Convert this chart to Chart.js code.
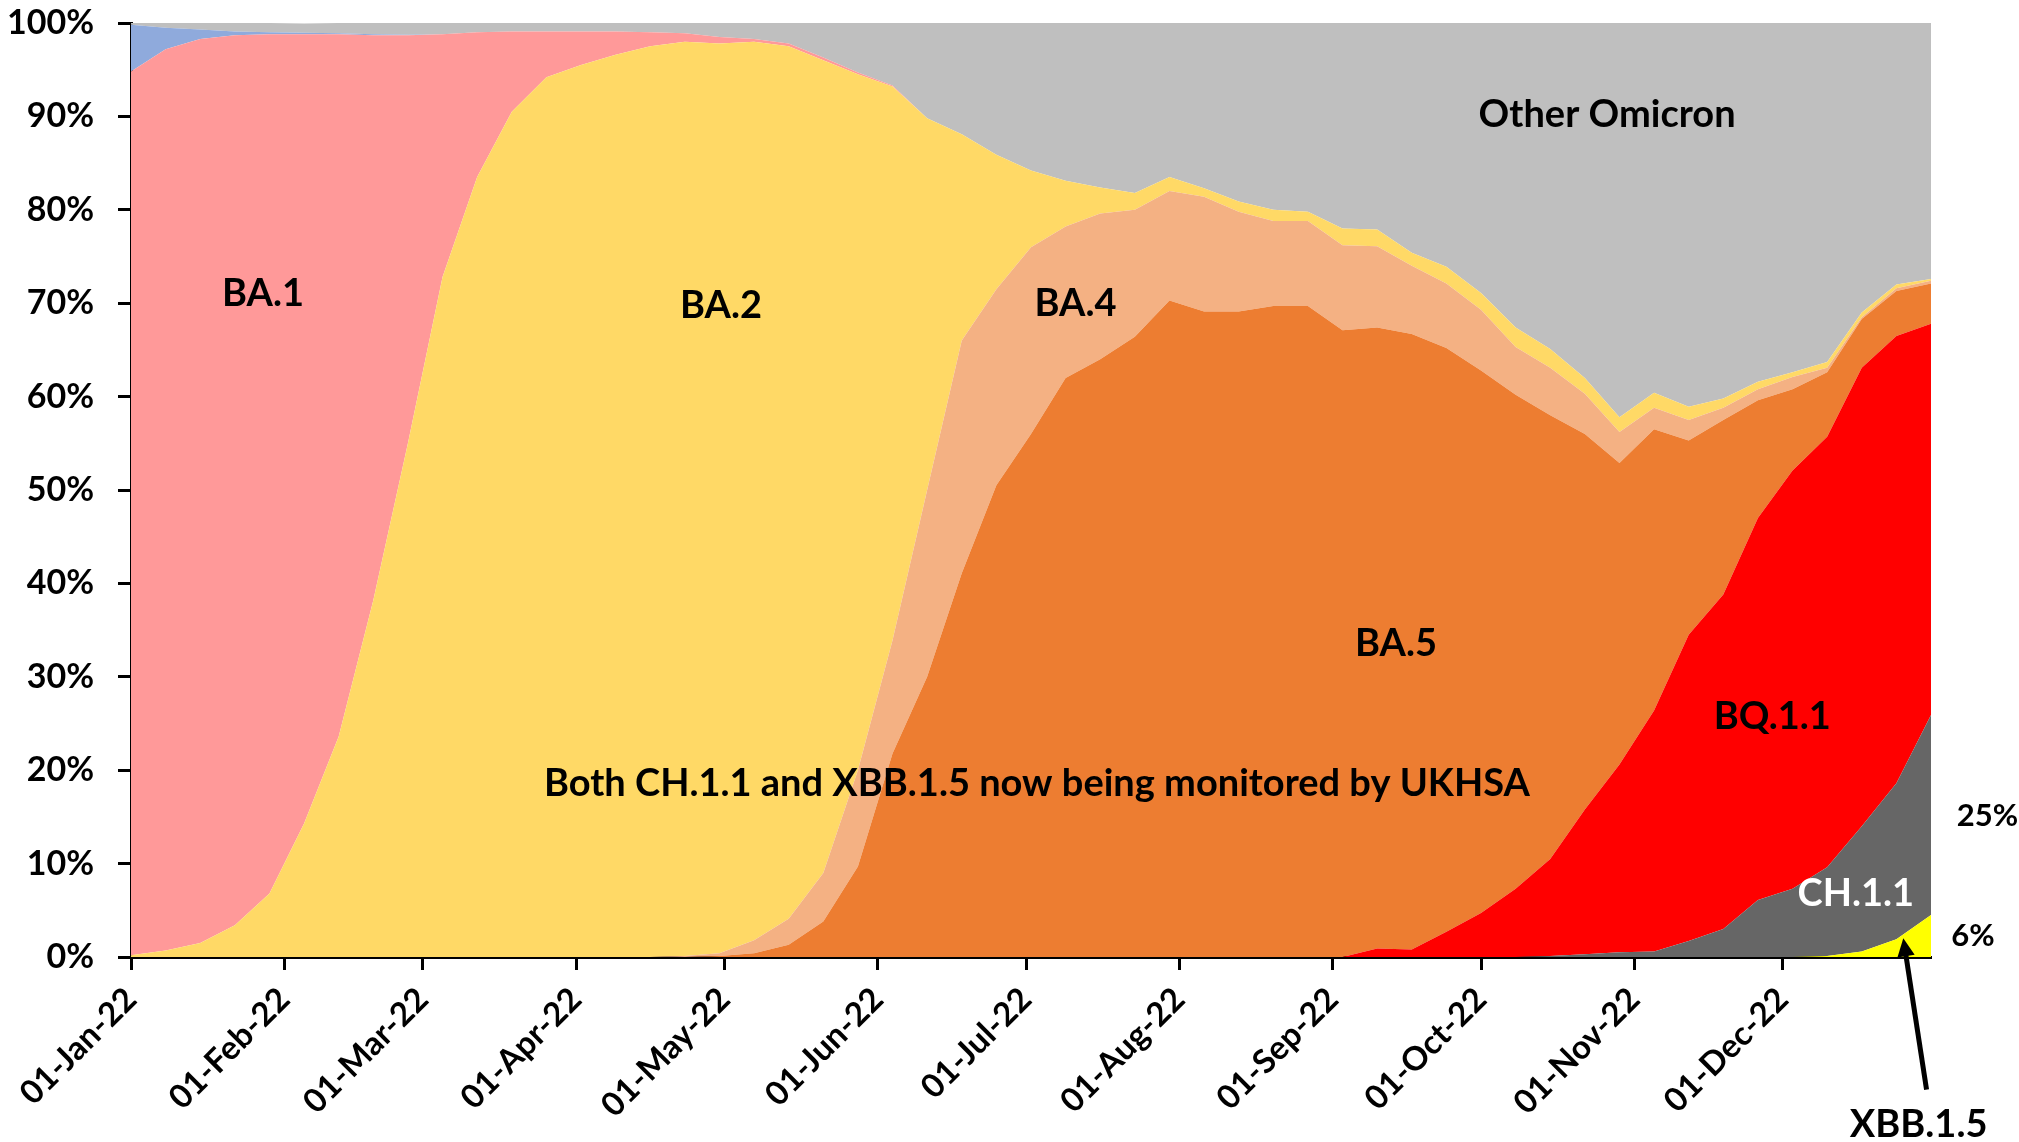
<!DOCTYPE html>
<html>
<head>
<meta charset="utf-8">
<title>Omicron variant share 2022</title>
<script src="https://cdn.jsdelivr.net/npm/chart.js@4.4.1/dist/chart.umd.min.js"></script>
<style>
  body { margin: 0; background: #fff; }
  #wrap { width: 2019px; height: 1142px; }
</style>
</head>
<body>
<div id="wrap"><canvas id="chart" width="2019" height="1142"></canvas></div>
<script>
// Weekly samples, in days since 01-Jan-22
const weekDays = [0, 7, 14, 21, 28, 35, 42, 49, 56, 63, 70, 77, 84, 91, 98, 105, 112, 119, 126, 133,
    140, 147, 154, 161, 168, 175, 182, 189, 196, 203, 210, 217, 224, 231, 238, 245, 252, 259, 266, 273,
    280, 287, 294, 301, 308, 315, 322, 329, 336, 343, 350, 357, 364];

// Month ticks on the x axis
const monthDays = [0, 31, 59, 90, 120, 151, 181, 212, 243, 273, 304, 334];
const monthLabels = ['01-Jan-22', '01-Feb-22', '01-Mar-22', '01-Apr-22', '01-May-22', '01-Jun-22',
    '01-Jul-22', '01-Aug-22', '01-Sep-22', '01-Oct-22', '01-Nov-22', '01-Dec-22'];

// Share of sequenced cases (%) per variant, bottom of the stack first
const xbb15 = [0, 0, 0, 0, 0, 0, 0, 0, 0, 0, 0, 0, 0, 0, 0, 0, 0, 0, 0, 0,
    0, 0, 0, 0, 0, 0, 0, 0, 0, 0, 0, 0, 0, 0, 0, 0, 0, 0, 0, 0,
    0, 0, 0, 0, 0, 0, 0, 0, 0, 0.1, 0.6, 1.9, 4.5];
const ch11 = [0, 0, 0, 0, 0, 0, 0, 0, 0, 0, 0, 0, 0, 0, 0, 0, 0, 0, 0, 0,
    0, 0, 0, 0, 0, 0, 0, 0, 0, 0, 0, 0, 0, 0, 0, 0, 0, 0, 0, 0,
    0, 0.1, 0.3, 0.5, 0.6, 1.7, 3.0, 6.1, 7.3, 9.5, 13.4, 16.7, 21.4];
const bq11 = [0, 0, 0, 0, 0, 0, 0, 0, 0, 0, 0, 0, 0, 0, 0, 0, 0, 0, 0, 0,
    0, 0, 0, 0, 0, 0, 0, 0, 0, 0, 0, 0, 0, 0, 0, 0, 0.9, 0.8, 2.7, 4.7,
    7.3, 10.4, 15.5, 20.1, 25.8, 32.8, 35.8, 40.9, 44.8, 46.1, 49.1, 47.9, 41.9];
const ba5 = [0, 0, 0, 0, 0, 0, 0, 0, 0, 0, 0, 0, 0, 0, 0, 0, 0, 0.1, 0.4, 1.3,
    3.8, 9.7, 21.8, 30.0, 41.1, 50.5, 56.0, 62.0, 64.0, 66.4, 70.3, 69.1, 69.1, 69.7, 69.7, 67.1, 66.5, 65.9, 62.5, 58.1,
    52.9, 47.5, 40.2, 32.3, 30.1, 20.8, 18.7, 12.6, 8.7, 6.9, 5.2, 4.8, 4.3];
const ba4 = [0, 0, 0, 0, 0, 0, 0, 0, 0, 0, 0, 0, 0, 0, 0, 0, 0.1, 0.3, 1.4, 2.8,
    5.2, 10.3, 12.1, 20.0, 24.9, 21.0, 20.0, 16.2, 15.6, 13.6, 11.7, 12.3, 10.7, 9.1, 9.1, 9.1, 8.7, 7.3, 6.9, 6.5,
    5.1, 5.1, 4.3, 3.3, 2.3, 2.2, 1.3, 1.2, 1.3, 0.5, 0.2, 0.3, 0.3];
const ba2 = [0.2, 0.7, 1.5, 3.4, 6.8, 14.3, 23.6, 38.2, 55.0, 72.8, 83.5, 90.5, 94.2, 95.5, 96.6, 97.5, 97.9, 97.4, 96.2, 93.4,
    87.0, 74.5, 59.3, 39.8, 22.1, 14.4, 8.2, 4.9, 2.8, 1.8, 1.5, 0.9, 1.1, 1.2, 1.0, 1.8, 1.8, 1.4, 1.8, 1.8,
    2.1, 2.0, 1.7, 1.6, 1.6, 1.4, 1.0, 0.8, 0.5, 0.6, 0.5, 0.4, 0.2];
const ba1 = [94.6, 96.5, 96.8, 95.3, 92.0, 84.5, 75.2, 60.5, 43.7, 26.0, 15.5, 8.6, 4.9, 3.6, 2.5, 1.5, 0.9, 0.7, 0.3, 0.3,
    0.3, 0.2, 0.1, 0, 0, 0, 0, 0, 0, 0, 0, 0, 0, 0, 0, 0, 0, 0, 0, 0,
    0, 0, 0, 0, 0, 0, 0, 0, 0, 0, 0, 0, 0];
const delta = [5.0, 2.3, 1.0, 0.4, 0.2, 0.15, 0.1, 0.1, 0.05, 0, 0, 0, 0, 0, 0, 0, 0, 0, 0, 0,
    0, 0, 0, 0, 0, 0, 0, 0, 0, 0, 0, 0, 0, 0, 0, 0, 0, 0, 0, 0,
    0, 0, 0, 0, 0, 0, 0, 0, 0, 0, 0, 0, 0];
const otherOmicron = [0.2, 0.5, 0.7, 0.9, 1.0, 1.0, 1.1, 1.2, 1.25, 1.2, 1.0, 0.9, 0.9, 0.9, 0.9, 1.0, 1.1, 1.5, 1.7, 2.2,
    3.7, 5.3, 6.7, 10.2, 11.9, 14.1, 15.8, 16.9, 17.6, 18.2, 16.5, 17.7, 19.1, 20.0, 20.2, 22.0, 22.1, 24.7, 26.1, 28.9,
    32.6, 34.9, 38.0, 42.2, 39.6, 41.1, 40.2, 38.4, 37.4, 36.3, 31.0, 28.0, 27.4];

const series = [
    { label: 'XBB.1.5', values: xbb15, color: '#FFFF00' },
    { label: 'CH.1.1', values: ch11, color: '#666666' },
    { label: 'BQ.1.1', values: bq11, color: '#FF0000' },
    { label: 'BA.5', values: ba5, color: '#ED7D31' },
    { label: 'BA.4', values: ba4, color: '#F4B183' },
    { label: 'BA.2', values: ba2, color: '#FFD966' },
    { label: 'BA.1', values: ba1, color: '#FF9999' },
    { label: 'Delta', values: delta, color: '#8FAADC' },
    { label: 'Other Omicron', values: otherOmicron, color: '#BFBFBF' }
];

// Text placed on the areas (x in days, y in %)
const areaLabels = [
    { text: 'BA.1', day: 26.7, pct: 71.0 },
    { text: 'BA.2', day: 119.3, pct: 69.7 },
    { text: 'BA.4', day: 191, pct: 69.9 },
    { text: 'BA.5', day: 255.8, pct: 33.5 },
    { text: 'Other Omicron', day: 298.5, pct: 90.2 },
    { text: 'BQ.1.1', day: 331.9, pct: 25.7 },
    { text: 'CH.1.1', day: 348.8, pct: 6.8, color: '#fff' },
    { text: 'Both CH.1.1 and XBB.1.5 now being monitored by UKHSA', day: 183.2, pct: 18.5 },
    { text: '25%', day: 375.4, pct: 15.1, size: 31 },
    { text: '6%', day: 372.5, pct: 2.2, size: 31 },
    { text: 'XBB.1.5', day: 361.5, pct: -18.0 }
];

const labelPlugin = {
    id: 'variantLabels',
    afterDraw(chart) {
        const { ctx, scales: { x, y } } = chart;
        ctx.save();
        ctx.textAlign = 'center';
        ctx.textBaseline = 'middle';
        for (const a of areaLabels) {
            ctx.font = `bold ${a.size || 38}px Lato`;
            ctx.fillStyle = a.color || '#000';
            ctx.fillText(a.text, x.getPixelForValue(a.day), y.getPixelForValue(a.pct));
        }

        // arrow pointing at the XBB.1.5 sliver
        const x0 = x.getPixelForValue(363.1), y0 = y.getPixelForValue(-14.2);
        const x1 = x.getPixelForValue(358.4), y1 = y.getPixelForValue(2.0);
        const ang = Math.atan2(y1 - y0, x1 - x0);
        const head = 20;
        ctx.strokeStyle = '#000';
        ctx.lineWidth = 5;
        ctx.beginPath();
        ctx.moveTo(x0, y0);
        ctx.lineTo(x1 - Math.cos(ang) * head * 0.8, y1 - Math.sin(ang) * head * 0.8);
        ctx.stroke();
        ctx.fillStyle = '#000';
        ctx.beginPath();
        ctx.moveTo(x1, y1);
        ctx.lineTo(x1 - head * Math.cos(ang - 0.45), y1 - head * Math.sin(ang - 0.45));
        ctx.lineTo(x1 - head * Math.cos(ang + 0.45), y1 - head * Math.sin(ang + 0.45));
        ctx.closePath();
        ctx.fill();
        ctx.restore();
    }
};

Chart.defaults.font.family = "Lato, 'Open Sans', sans-serif";
Chart.defaults.font.weight = 'bold';
Chart.defaults.color = '#000';

const ctx = document.getElementById('chart').getContext('2d');
new Chart(ctx, {
    type: 'line',
    data: {
        datasets: series.map((s, i) => ({
            label: s.label,
            data: weekDays.map((d, j) => ({ x: d, y: s.values[j] })),
            backgroundColor: s.color,
            borderWidth: 0,
            pointRadius: 0,
            tension: 0,
            fill: i === 0 ? 'origin' : '-1'
        }))
    },
    options: {
        responsive: false,
        animation: false,
        devicePixelRatio: 1,
        layout: { padding: { left: 9, right: 88, top: 23, bottom: 0 } },
        plugins: {
            legend: { display: false },
            tooltip: { enabled: false }
        },
        scales: {
            x: {
                type: 'linear',
                min: 0,
                max: 364,
                afterBuildTicks: axis => { axis.ticks = monthDays.map(v => ({ value: v })); },
                afterFit: s => { s.height = 185; },
                ticks: {
                    autoSkip: false,
                    minRotation: 45,
                    maxRotation: 45,
                    padding: 10,
                    font: { size: 33, weight: 'bold' },
                    callback: v => monthLabels[monthDays.indexOf(v)]
                },
                grid: { drawOnChartArea: false, tickLength: 13, tickWidth: 3, tickColor: '#000' },
                border: { color: '#000', width: 3 }
            },
            y: {
                stacked: true,
                min: 0,
                max: 100,
                afterFit: s => {
                    s.width = 122;
                    s.paddingTop = 0;
                    s.paddingBottom = 0;
                },
                ticks: {
                    stepSize: 10,
                    padding: 24,
                    font: { size: 34, weight: 'bold' },
                    callback: v => v + '%'
                },
                grid: { drawOnChartArea: false, tickLength: 13, tickWidth: 3, tickColor: '#000' },
                border: { color: '#000', width: 3 }
            }
        }
    },
    plugins: [labelPlugin]
});
</script>
</body>
</html>
